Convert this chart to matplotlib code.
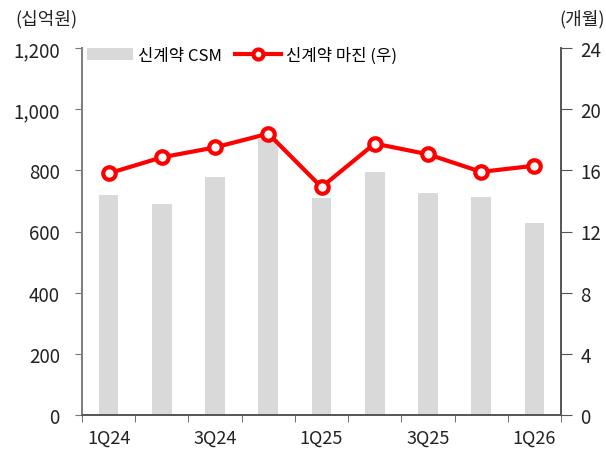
import matplotlib
matplotlib.use("Agg")
import matplotlib.pyplot as plt
import numpy as np

plt.rcParams['font.family'] = ['Noto Sans CJK KR', 'DejaVu Sans']

quarters = ["1Q24", "2Q24", "3Q24", "4Q24", "1Q25", "2Q25", "3Q25", "4Q25", "1Q26"]
tick_labels = ["1Q24", "", "3Q24", "", "1Q25", "", "3Q25", "", "1Q26"]
csm = [720, 690, 778, 902, 710, 795, 726, 713, 628]
margin = [15.8, 16.85, 17.5, 18.4, 14.9, 17.75, 17.05, 15.9, 16.3]

fig = plt.figure(figsize=(6.06, 4.56), dpi=100)
ax = fig.add_axes([82/606, 1-416/456, (561-82)/606, (416-49)/456])
ax2 = ax.twinx()

x = np.arange(len(quarters))
ax.bar(x, csm, width=0.37, color="#d9d9d9", label="신계약 CSM", zorder=2)
ax2.plot(x, margin, color="#ff0000", lw=3, marker="o", markersize=9,
         markerfacecolor="white", markeredgecolor="#ff0000", markeredgewidth=3,
         label="신계약 마진 (우)", zorder=3)

ax.set_xlim(-0.5, len(quarters) - 0.5)
ax.set_ylim(0, 1200)
ax.set_yticks(np.arange(0, 1201, 200))
ax.set_yticklabels([f"{v:,}" for v in range(0, 1201, 200)])
ax2.set_ylim(0, 24)
ax2.set_yticks(np.arange(0, 25, 4))

ax.set_xticks(x)
ax.set_xticklabels(tick_labels)
ax.set_xticks(np.arange(-0.5, len(quarters), 1), minor=True)
ax.tick_params(axis="x", which="major", length=0, labelsize=13, pad=10, colors="#222222")
ax.tick_params(axis="x", which="minor", length=5, direction="out", color="#555555")
ax.tick_params(axis="y", length=5, direction="out", labelsize=13.5, pad=11, colors="#222222", color="#777777")
ax2.tick_params(axis="y", length=8, direction="out", labelsize=13.5, pad=6, colors="#222222", color="#555555")

for a in (ax, ax2):
    a.spines["top"].set_visible(False)
    a.spines["left"].set_color("#808080")
    a.spines["right"].set_color("#555555")
    a.spines["bottom"].set_color("#555555")
    a.spines["left"].set_linewidth(1.4)
    a.spines["right"].set_linewidth(1.2)
    a.spines["bottom"].set_linewidth(1.2)

ax.set_zorder(1)
ax2.set_zorder(2)
ax.patch.set_visible(False)

h1, l1 = ax.get_legend_handles_labels()
h2, l2 = ax2.get_legend_handles_labels()
ax2.legend(h1 + h2, l1 + l2, loc="upper left", bbox_to_anchor=(-0.02, 1.045), ncol=2,
           frameon=False, fontsize=12, handlelength=2.75, handletextpad=0.3,
           columnspacing=0.8, markerscale=0.8)

fig.text(15/606, 1-19/456, "(십억원)", fontsize=13, va="center", ha="left", color="#222222")
fig.text(605/606, 1-19/456, "(개월)", fontsize=13, va="center", ha="right", color="#222222")

fig.savefig("out.png", dpi=100)
